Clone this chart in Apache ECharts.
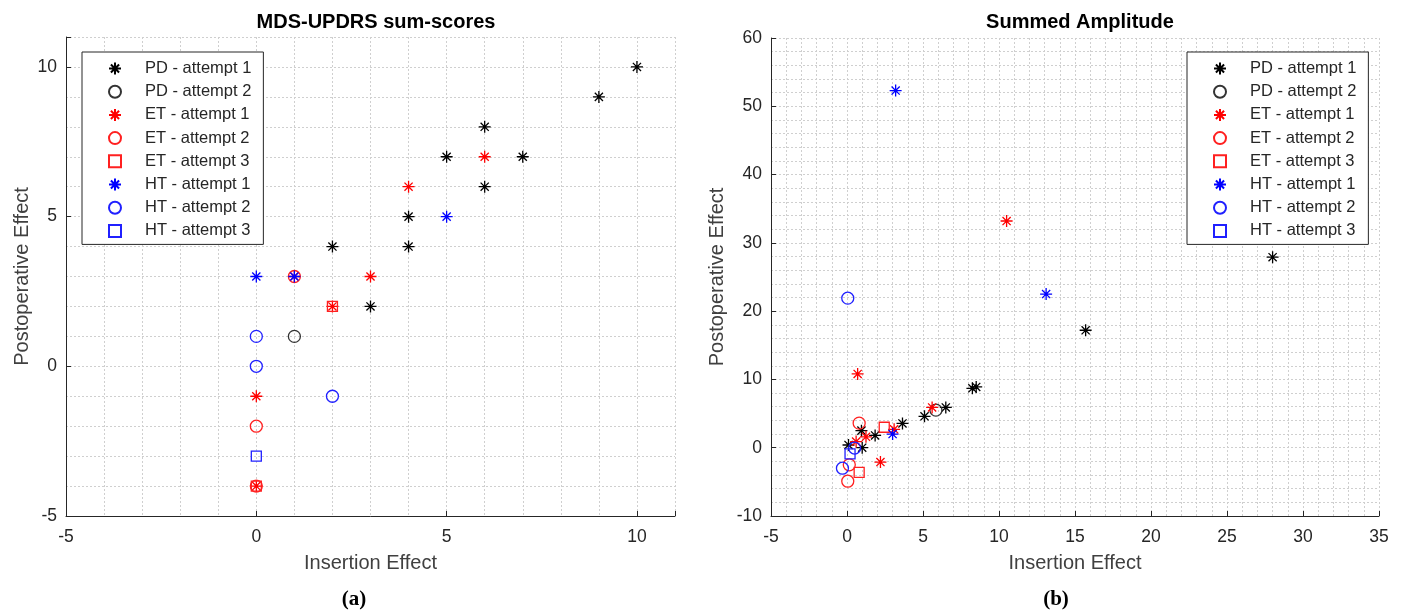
<!DOCTYPE html>
<html>
<head>
<meta charset="utf-8">
<script src="https://cdn.jsdelivr.net/npm/echarts@6/dist/echarts.min.js"></script>
<style>
html,body{margin:0;padding:0;background:#fff;}
#chart{width:1406px;height:615px;}
</style>
</head>
<body>
<div id="chart"></div>
<script>
// ---- Data ----
const seriesNames = ['PD - attempt 1','PD - attempt 2','ET - attempt 1','ET - attempt 2','ET - attempt 3','HT - attempt 1','HT - attempt 2','HT - attempt 3'];

// (a) MDS-UPDRS sum-scores  [insertion effect, postoperative effect]
const leftPD1 = [[10,10],[9,9],[6,8],[5,7],[7,7],[6,6],[4,5],[4,4],[2,4],[3,2]];
const leftPD2 = [[1,1]];
const leftET1 = [[6,7],[4,6],[3,3],[0,-1],[2,2],[0,-4],[1,3]];
const leftET2 = [[0,-2],[1,3],[0,-4]];
const leftET3 = [[2,2],[0,-4]];
const leftHT1 = [[0,3],[1,3],[5,5]];
const leftHT2 = [[0,1],[0,0],[2,-1]];
const leftHT3 = [[0,-3]];

// (b) Summed Amplitude
const rightPD1 = [[28.0,27.9],[15.7,17.2],[8.25,8.7],[8.5,8.9],[6.5,5.9],[5.1,4.6],[3.65,3.55],[1.85,1.8],[0.95,2.5],[0.1,0.4],[1.0,0.0]];
const rightPD2 = [[5.85,5.5]];
const rightET1 = [[10.5,33.2],[0.7,10.8],[5.6,5.9],[3.1,2.7],[1.25,1.6],[0.6,0.9],[2.2,-2.1]];
const rightET2 = [[0.8,3.6],[0.15,-2.5],[0.05,-4.9]];
const rightET3 = [[2.45,3.0],[0.8,-3.6]];
const rightHT1 = [[3.2,52.3],[13.1,22.5],[3.0,2.0]];
const rightHT2 = [[0.05,21.9],[0.5,-0.05],[-0.3,-3.0]];
const rightHT3 = [[0.2,-0.9]];

const leftData = [leftPD1,leftPD2,leftET1,leftET2,leftET3,leftHT1,leftHT2,leftHT3];
const rightData = [rightPD1,rightPD2,rightET1,rightET2,rightET3,rightHT1,rightHT2,rightHT3];

// ---- Styles ----
const STAR = 'path://M5,0L5,10M0,5L10,5M1.6,1.6L8.4,8.4M1.6,8.4L8.4,1.6';
const SQUARE = 'path://M0,0L10,0L10,10L0,10Z';
const colors = ['#000000','#333333','#ff0000','#ff2020','#ff2020','#0000ff','#2020ff','#2020ff'];
const symbols = [STAR,'circle',STAR,'circle',SQUARE,STAR,'circle',SQUARE];
const sizes = [12,12,12,12,10,12,12,10];

const FONT = 'Liberation Sans, Arial, Helvetica, sans-serif';
const AX = '#262626';
const gridLine = {show:true, lineStyle:{color:'#cfcfcf', type:[2,2], width:1}};

function makeSeries(dataList, xi, yi) {
  return dataList.map((d, i) => ({
    name: seriesNames[i],
    type: 'scatter',
    xAxisIndex: xi,
    yAxisIndex: yi,
    data: d,
    symbol: symbols[i],
    symbolSize: sizes[i],
    itemStyle: {color: 'rgba(0,0,0,0)', borderColor: colors[i], borderWidth: 1.3, opacity: 1},
    emphasis: {disabled: true},
    z: 3 + i
  }));
}

const labelStyle = {color: AX, fontSize: 17.5, fontFamily: FONT};
const nameStyle = {color: '#404040', fontSize: 20, fontFamily: FONT};

function mainAxis(gi, min, max, interval, isX, nameGap, fmt, minor) {
  const ax = {
    type: 'value', gridIndex: gi, min: min, max: max, interval: interval,
    name: isX ? 'Insertion Effect' : 'Postoperative Effect',
    nameLocation: 'middle', nameGap: nameGap, nameTextStyle: nameStyle,
    axisLine: {show: true, onZero: false, lineStyle: {color: AX, width: 1}},
    axisTick: {show: !!minor, inside: true, length: 5, lineStyle: {color: AX}},
    axisLabel: {show: true, margin: isX ? 12 : 9, formatter: fmt, ...labelStyle, showMaxLabel: true, showMinLabel: true},
    splitLine: gridLine
  };
  ax.position = isX ? 'bottom' : 'left';
  if (minor) {
    ax.minorTick = {show: false, splitNumber: minor};
    ax.minorSplitLine = gridLine;
  }
  return ax;
}

function tickAxis(gi, min, max, interval, isX) {
  return {
    type: 'value', gridIndex: gi, min: min, max: max, interval: interval,
    position: isX ? 'bottom' : 'left', offset: 0,
    axisLine: {show: false, onZero: false},
    axisTick: {show: true, inside: true, length: 5, lineStyle: {color: AX}},
    axisLabel: {show: false},
    splitLine: {show: false}
  };
}

const fmtLeft = v => (Math.abs(v % 5) < 1e-9 && v <= 10) ? String(v) : '';

const legendCommon = {
  orient: 'vertical',
  data: seriesNames,
  backgroundColor: '#ffffff',
  borderColor: AX,
  borderWidth: 1,
  padding: [8, 12, 5, 26],
  itemWidth: 50,
  itemHeight: 12,
  itemGap: 6.2,
  selectedMode: false,
  textStyle: {color: AX, fontSize: 16.5, fontFamily: FONT},
  z: 20
};

const option = {
  backgroundColor: '#ffffff',
  animation: false,
  title: [
    {text: 'MDS-UPDRS sum-scores', left: 371, top: 7, textAlign: 'center',
     textStyle: {fontSize: 20, fontWeight: 'bold', color: '#000', fontFamily: FONT}},
    {text: 'Summed Amplitude', left: 1075, top: 7, textAlign: 'center',
     textStyle: {fontSize: 20, fontWeight: 'bold', color: '#000', fontFamily: FONT}},
    {text: '(a)', left: 349, top: 584, textAlign: 'center',
     textStyle: {fontSize: 21, fontWeight: 'bold', color: '#000', fontFamily: 'Liberation Serif, Times New Roman, serif'}},
    {text: '(b)', left: 1051, top: 584, textAlign: 'center',
     textStyle: {fontSize: 21, fontWeight: 'bold', color: '#000', fontFamily: 'Liberation Serif, Times New Roman, serif'}}
  ],
  legend: [
    {...legendCommon, left: 82, top: 52},
    {...legendCommon, left: 1187, top: 52}
  ],
  grid: [
    {left: 66, top: 37, width: 609, height: 479},
    {left: 771, top: 38, width: 608, height: 478}
  ],
  xAxis: [
    mainAxis(0, -5, 11, 1, true, 37, fmtLeft, 0),
    tickAxis(0, -5, 11, 5, true),
    mainAxis(1, -5, 35, 5, true, 37, null, 5)
  ],
  yAxis: [
    mainAxis(0, -5, 11, 1, false, 34, fmtLeft, 0),
    tickAxis(0, -5, 11, 5, false),
    mainAxis(1, -10, 60, 10, false, 44, null, 5)
  ],
  series: [
    ...makeSeries(leftData, 0, 0),
    ...makeSeries(rightData, 2, 2)
  ]
};

const chart = echarts.init(document.getElementById('chart'), null, {renderer: 'canvas'});
chart.setOption(option);
</script>
</body>
</html>
